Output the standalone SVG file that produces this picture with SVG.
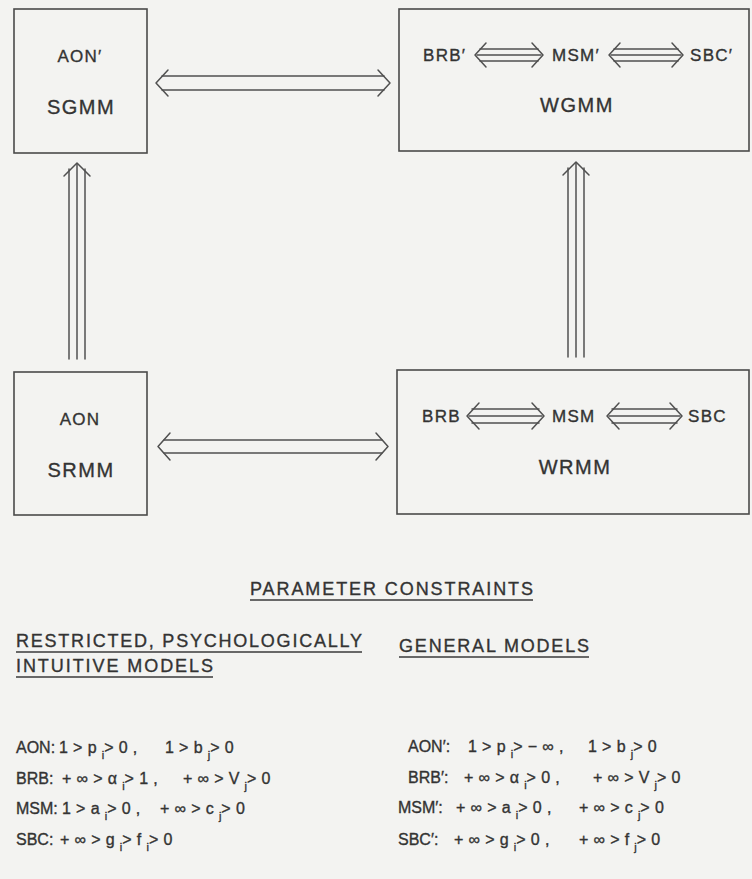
<svg xmlns="http://www.w3.org/2000/svg" width="752" height="879" viewBox="0 0 752 879">
<style>
text{font-family:"Liberation Sans","DejaVu Sans",sans-serif;fill:#333;stroke:#333;stroke-width:0.35}
.box{fill:none;stroke:#4a4a4a;stroke-width:1.6}
.ln{fill:none;stroke:#505050;stroke-width:1.5;stroke-linecap:round;stroke-linejoin:round}
.sm{font-size:17px;letter-spacing:1.3px}
.big{font-size:20px;letter-spacing:1.5px}
.hd{font-size:18px}
.ul{stroke:#3a3a3a;stroke-width:1.6}
.lab{font-size:16px}
.f{font-size:16px;letter-spacing:5.2px}
.sub{font-size:11px;letter-spacing:0}
</style>
<rect width="752" height="879" fill="#f3f3f1"/>

<g id="SGMM">
<rect class="box" x="14" y="9" width="133" height="144"/>
<text class="sm" x="80" y="62" text-anchor="middle">AON′</text>
<text class="big" x="81" y="114" text-anchor="middle">SGMM</text>
</g>

<g id="WGMM">
<rect class="box" x="399" y="9" width="350" height="142"/>
<text class="sm" x="423" y="61">BRB′</text>
<text class="sm" x="552" y="61">MSM′</text>
<text class="sm" x="690" y="61">SBC′</text>
<text class="big" x="577" y="112" text-anchor="middle">WGMM</text>
</g>

<g id="SRMM">
<rect class="box" x="14" y="372" width="133" height="143"/>
<text class="sm" x="80" y="425" text-anchor="middle">AON</text>
<text class="big" x="81" y="477" text-anchor="middle">SRMM</text>
</g>

<g id="WRMM">
<rect class="box" x="397" y="370" width="352" height="144"/>
<text class="sm" x="422" y="422">BRB</text>
<text class="sm" x="552" y="422">MSM</text>
<text class="sm" x="688" y="422">SBC</text>
<text class="big" x="575" y="474" text-anchor="middle">WRMM</text>
</g>

<g id="connectors">
<g class="ln">
<line x1="162" y1="76" x2="384" y2="76"/>
<line x1="162" y1="90" x2="384" y2="90"/>
<polyline points="168,70 156,83 168,96"/>
<polyline points="378,70 390,83 378,96"/>
</g>
<g class="ln">
<line x1="164" y1="440" x2="382" y2="440"/>
<line x1="164" y1="453" x2="382" y2="453"/>
<polyline points="170,433 158,446.5 170,460"/>
<polyline points="376,433 388,446.5 376,460"/>
</g>
<g class="ln">
<line x1="69" y1="359" x2="69" y2="169"/>
<line x1="77" y1="359" x2="77" y2="164"/>
<line x1="85" y1="359" x2="85" y2="169"/>
<polyline points="64,176 77,163 90,176"/>
</g>
<g class="ln">
<line x1="568" y1="357" x2="568" y2="168"/>
<line x1="576" y1="357" x2="576" y2="163"/>
<line x1="584" y1="357" x2="584" y2="168"/>
<polyline points="563,175 576,162 589,175"/>
</g>
<g class="ln">
<line x1="480" y1="49" x2="538" y2="49"/>
<line x1="477" y1="55" x2="541" y2="55"/>
<line x1="480" y1="61" x2="538" y2="61"/>
<polyline points="486,43 475,55 486,67"/>
<polyline points="532,43 543,55 532,67"/>
</g>
<g class="ln">
<line x1="614" y1="49" x2="678" y2="49"/>
<line x1="611" y1="55" x2="681" y2="55"/>
<line x1="614" y1="61" x2="678" y2="61"/>
<polyline points="620,43 609,55 620,67"/>
<polyline points="672,43 683,55 672,67"/>
</g>
<g class="ln">
<line x1="472" y1="409" x2="539" y2="409"/>
<line x1="469" y1="416" x2="542" y2="416"/>
<line x1="472" y1="423" x2="539" y2="423"/>
<polyline points="479,403 467,416 479,429"/>
<polyline points="532,403 544,416 532,429"/>
</g>
<g class="ln">
<line x1="612" y1="409" x2="677" y2="409"/>
<line x1="609" y1="416" x2="680" y2="416"/>
<line x1="612" y1="423" x2="677" y2="423"/>
<polyline points="619,403 607,416 619,429"/>
<polyline points="670,403 682,416 670,429"/>
</g>
</g>

<g id="headings">
<text class="hd" x="250" y="595" textLength="283" lengthAdjust="spacing">PARAMETER CONSTRAINTS</text>
<line class="ul" x1="250" y1="600" x2="533" y2="600"/>
<text class="hd" x="16" y="647" textLength="346" lengthAdjust="spacing">RESTRICTED, PSYCHOLOGICALLY</text>
<line class="ul" x1="16" y1="652" x2="362" y2="652"/>
<text class="hd" x="16" y="672" textLength="197" lengthAdjust="spacing">INTUITIVE MODELS</text>
<line class="ul" x1="16" y1="677" x2="213" y2="677"/>
<text class="hd" x="399" y="652" textLength="190" lengthAdjust="spacing">GENERAL MODELS</text>
<line class="ul" x1="399" y1="657" x2="589" y2="657"/>
</g>

<g id="constraints">
<text class="lab" x="16" y="753">AON:</text>
<text class="f" y="753"><tspan x="59">1&gt;p</tspan><tspan class="sub" dy="6">i</tspan><tspan dy="-6">&gt;0,</tspan><tspan x="165">1&gt;b</tspan><tspan class="sub" dy="6">j</tspan><tspan dy="-6">&gt;0</tspan></text>
<text class="lab" x="16" y="784">BRB:</text>
<text class="f" y="784"><tspan x="62">+∞&gt;α</tspan><tspan class="sub" dy="6">i</tspan><tspan dy="-6">&gt;1,</tspan><tspan x="183">+∞&gt;V</tspan><tspan class="sub" dy="6">j</tspan><tspan dy="-6">&gt;0</tspan></text>
<text class="lab" x="16" y="814">MSM:</text>
<text class="f" y="814"><tspan x="62">1&gt;a</tspan><tspan class="sub" dy="6">i</tspan><tspan dy="-6">&gt;0,</tspan><tspan x="160">+∞&gt;c</tspan><tspan class="sub" dy="6">j</tspan><tspan dy="-6">&gt;0</tspan></text>
<text class="lab" x="16" y="845">SBC:</text>
<text class="f" y="845"><tspan x="60">+∞&gt;g</tspan><tspan class="sub" dy="6">i</tspan><tspan dy="-6">&gt;f</tspan><tspan class="sub" dy="6">i</tspan><tspan dy="-6">&gt;0</tspan></text>

<text class="lab" x="408" y="752">AON′:</text>
<text class="f" y="752"><tspan x="468">1&gt;p</tspan><tspan class="sub" dy="6">i</tspan><tspan dy="-6">&gt;−∞,</tspan><tspan x="588">1&gt;b</tspan><tspan class="sub" dy="6">j</tspan><tspan dy="-6">&gt;0</tspan></text>
<text class="lab" x="408" y="783">BRB′:</text>
<text class="f" y="783"><tspan x="464">+∞&gt;α</tspan><tspan class="sub" dy="6">i</tspan><tspan dy="-6">&gt;0,</tspan><tspan x="593">+∞&gt;V</tspan><tspan class="sub" dy="6">j</tspan><tspan dy="-6">&gt;0</tspan></text>
<text class="lab" x="398" y="813">MSM′:</text>
<text class="f" y="813"><tspan x="456">+∞&gt;a</tspan><tspan class="sub" dy="6">i</tspan><tspan dy="-6">&gt;0,</tspan><tspan x="579">+∞&gt;c</tspan><tspan class="sub" dy="6">j</tspan><tspan dy="-6">&gt;0</tspan></text>
<text class="lab" x="398" y="845">SBC′:</text>
<text class="f" y="845"><tspan x="454">+∞&gt;g</tspan><tspan class="sub" dy="6">i</tspan><tspan dy="-6">&gt;0,</tspan><tspan x="579">+∞&gt;f</tspan><tspan class="sub" dy="6">j</tspan><tspan dy="-6">&gt;0</tspan></text>
</g>
</svg>
